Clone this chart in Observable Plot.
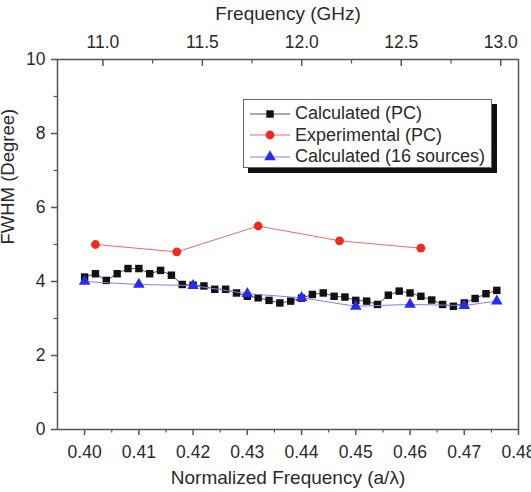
<!DOCTYPE html>
<html>
<head>
<meta charset="utf-8">
<script src="https://cdn.jsdelivr.net/npm/d3@7"></script>
<script src="https://cdn.jsdelivr.net/npm/@observablehq/plot@0.6"></script>
<style>
  body { margin: 0; background: #fff; font-family: "Liberation Sans", Arial, sans-serif; }
  #chart { position: relative; width: 531px; height: 492px; }
  .legend {
    position: absolute; left: 243px; top: 99px; width: 249px; height: 69px;
    box-sizing: border-box; border: 1px solid #666; background: #fff;
    box-shadow: 5px 5px 0 #111; padding-top: 3px;
  }
  .legend .row { display: flex; align-items: center; height: 21.5px; font-size: 18px; color: #2a2a2a; white-space: nowrap; }
  .legend svg { margin-left: 6px; margin-right: 5px; flex: none; }
</style>
</head>
<body>
<div id="chart"></div>
<script>
// Calculated FWHM of the photonic-crystal beam
const pcX = [0.400, 0.402, 0.404, 0.406, 0.408, 0.410, 0.412, 0.414, 0.416, 0.418,
             0.420, 0.422, 0.424, 0.426, 0.428, 0.430, 0.432, 0.434, 0.436, 0.438,
             0.440, 0.442, 0.444, 0.446, 0.448, 0.450, 0.452, 0.454, 0.456, 0.458,
             0.460, 0.462, 0.464, 0.466, 0.468, 0.470, 0.472, 0.474, 0.476];
const pcY = [4.12, 4.21, 4.03, 4.21, 4.35, 4.35, 4.21, 4.30, 4.17, 3.92,
             3.90, 3.88, 3.79, 3.79, 3.69, 3.60, 3.56, 3.49, 3.42, 3.47,
             3.55, 3.65, 3.69, 3.60, 3.58, 3.49, 3.47, 3.38, 3.63, 3.74,
             3.69, 3.60, 3.50, 3.38, 3.33, 3.42, 3.54, 3.67, 3.76];

// Measured FWHM
const expX = [0.402, 0.417, 0.432, 0.447, 0.462];
const expY = [5.0, 4.8, 5.5, 5.1, 4.9];

// Calculated FWHM with 16 point sources
const srcX = [0.400, 0.410, 0.420, 0.430, 0.440, 0.450, 0.460, 0.470, 0.476];
const srcY = [4.00, 3.92, 3.89, 3.67, 3.56, 3.33, 3.38, 3.35, 3.47];

// Axis ticks
const xTicks = [0.40, 0.41, 0.42, 0.43, 0.44, 0.45, 0.46, 0.47, 0.48];
const xMinor = [0.405, 0.415, 0.425, 0.435, 0.445, 0.455, 0.465, 0.475];
const yTicks = [0, 2, 4, 6, 8, 10];
const yMinor = [1, 3, 5, 7, 9];
const ghzTicks = [11.0, 11.5, 12.0, 12.5, 13.0];
const ghzMinor = [11.25, 11.75, 12.25, 12.75];
const ghzPerUnit = 27.27; // f = (c / a) * (a / λ), lattice constant a ≈ 11 mm

const series = [
  { name: "Calculated (PC)", xs: pcX, ys: pcY, symbol: "square", fill: "#111", line: "#555", r: 4.2 },
  { name: "Experimental (PC)", xs: expX, ys: expY, symbol: "circle", fill: "#f02a1c", line: "#f06a60", r: 4.4 },
  { name: "Calculated (16 sources)", xs: srcX, ys: srcY, symbol: "triangle", fill: "#2a2af0", line: "#8080f0", r: 4.3 }
];
const rows = s => s.xs.map((x, i) => ({ x, y: s.ys[i] }));

const axisColor = "#555";
const textColor = "#2a2a2a";

const plot = Plot.plot({
  width: 531,
  height: 492,
  marginLeft: 57,
  marginRight: 13,
  marginTop: 59,
  marginBottom: 63,
  style: { fontFamily: "'Liberation Sans', Arial, sans-serif", fontSize: "17px", color: textColor, background: "#fff" },
  x: { domain: [0.395, 0.48] },
  y: { domain: [0, 10] },
  marks: [
    // bottom axis: normalized frequency
    Plot.axisX(xTicks, { anchor: "bottom", tickSize: 6, tickPadding: 10, tickFormat: d3.format(".2f"), label: null, stroke: axisColor, strokeWidth: 1.5, fontSize: 17.5 }),
    Plot.axisX(xMinor, { anchor: "bottom", tickSize: 3.5, tickFormat: () => "", label: null, stroke: axisColor, strokeWidth: 1.2 }),
    // left axis: FWHM
    Plot.axisY(yTicks, { anchor: "left", tickSize: 6, tickPadding: 6, label: null, stroke: axisColor, strokeWidth: 1.5, fontSize: 17.5 }),
    Plot.axisY(yMinor, { anchor: "left", tickSize: 3.5, tickFormat: () => "", label: null, stroke: axisColor, strokeWidth: 1.2 }),
    // top axis: frequency in GHz, ticks pointing inward
    Plot.axisX(ghzTicks.map(f => f / ghzPerUnit), { anchor: "top", tickSize: -6, tickPadding: 18, tickFormat: v => (v * ghzPerUnit).toFixed(1), label: null, stroke: axisColor, strokeWidth: 1.5, fontSize: 17.5 }),
    Plot.axisX(ghzMinor.map(f => f / ghzPerUnit), { anchor: "top", tickSize: -3.5, tickFormat: () => "", label: null, stroke: axisColor, strokeWidth: 1.2 }),
    Plot.frame({ stroke: axisColor, strokeWidth: 1.5 }),

    // series: connecting lines, then markers
    ...series.flatMap(s => [
      Plot.line(rows(s), { x: "x", y: "y", stroke: s.line, strokeWidth: 1 }),
      Plot.dot(rows(s), { x: "x", y: "y", symbol: s.symbol, r: s.r, fill: s.fill, stroke: "none" })
    ]),

    // axis titles
    Plot.text(["Frequency (GHz)"], { frameAnchor: "top", dy: -40, lineAnchor: "bottom", fontSize: 19, fill: textColor }),
    Plot.text(["Normalized Frequency (a/\u03bb)"], { frameAnchor: "bottom", dy: 54, lineAnchor: "bottom", fontSize: 19, fill: textColor }),
    Plot.text(["FWHM (Degree)"], { frameAnchor: "left", dx: -49, rotate: -90, fontSize: 18.5, fill: textColor })
  ]
});

const chart = document.getElementById("chart");
chart.appendChild(plot);

// legend box with drop shadow, inside the plot area
const legend = document.createElement("div");
legend.className = "legend";
const symbolType = { square: d3.symbolSquare, circle: d3.symbolCircle, triangle: d3.symbolTriangle };
for (const s of series) {
  const row = document.createElement("div");
  row.className = "row";
  const svg = d3.create("svg").attr("width", 40).attr("height", 14);
  svg.append("line").attr("x1", 0).attr("x2", 40).attr("y1", 7).attr("y2", 7).attr("stroke", s.line).attr("stroke-width", 1);
  svg.append("path")
    .attr("transform", "translate(20,7)")
    .attr("d", d3.symbol(symbolType[s.symbol], Math.PI * s.r * s.r)())
    .attr("fill", s.fill);
  row.appendChild(svg.node());
  const label = document.createElement("span");
  label.textContent = s.name;
  row.appendChild(label);
  legend.appendChild(row);
}
chart.appendChild(legend);
</script>
</body>
</html>
